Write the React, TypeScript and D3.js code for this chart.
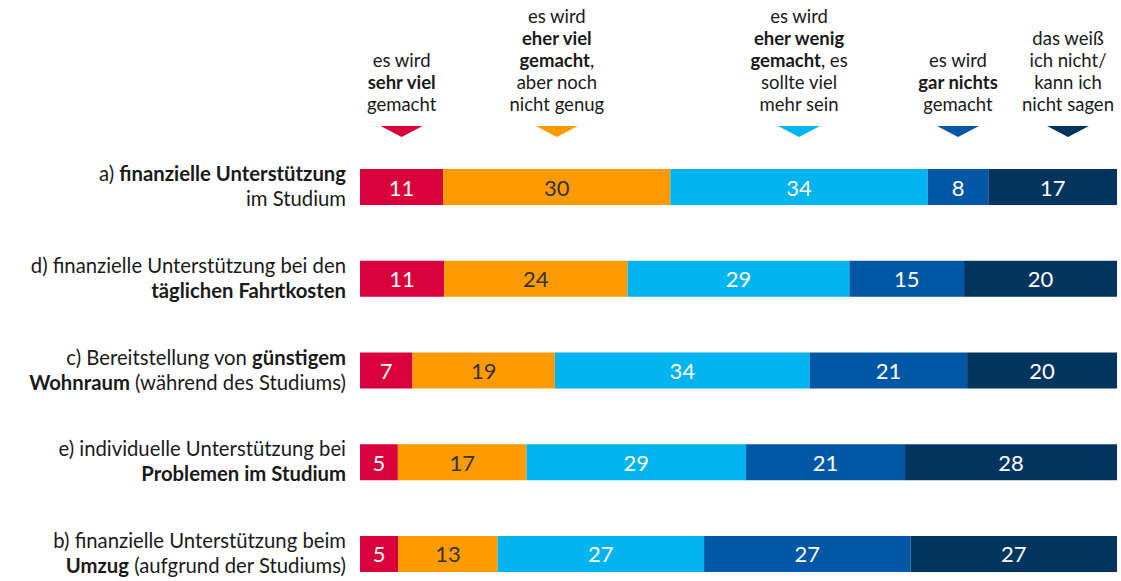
import { scaleBand, scaleLinear, sum } from 'd3';

type Seg = [string, boolean];

const categories = ['sehr viel', 'eher viel', 'eher wenig', 'gar nichts', 'weiß nicht'];
const colors = ['#d9003b', '#ff9a00', '#00b4f0', '#0057a6', '#01355f'];
const valueTextColors = ['#fff', '#333', '#fff', '#fff', '#fff'];

// header lines per answer category (text, bold)
const headerLines: Seg[][][] = [
  [[['es wird', false]], [['sehr viel', true]], [['gemacht', false]]],
  [[['es wird', false]], [['eher viel', true]], [['gemacht', true], [',', false]], [['aber noch', false]], [['nicht genug', false]]],
  [[['es wird', false]], [['eher wenig', true]], [['gemacht', true], [', es', false]], [['sollte viel', false]], [['mehr sein', false]]],
  [[['es wird', false]], [['gar nichts', true]], [['gemacht', false]]],
  [[['das weiß', false]], [['ich nicht/', false]], [['kann ich', false]], [['nicht sagen', false]]],
];

const rowLabels: Seg[][][] = [
  [[['a) ', false], ['finanzielle Unterstützung', true]], [['im Studium', false]]],
  [[['d) finanzielle Unterstützung bei den', false]], [['täglichen Fahrtkosten', true]]],
  [[['c) Bereitstellung von ', false], ['günstigem', true]], [['Wohnraum', true], [' (während des Studiums)', false]]],
  [[['e) individuelle Unterstützung bei', false]], [['Problemen im Studium', true]]],
  [[['b) finanzielle Unterstützung beim', false]], [['Umzug', true], [' (aufgrund der Studiums)', false]]],
];

const sehrViel = [11, 11, 7, 5, 5];
const eherViel = [30, 24, 19, 17, 13];
const eherWenig = [34, 29, 34, 29, 27];
const garNichts = [8, 15, 21, 21, 27];
const weissNicht = [17, 20, 20, 28, 27];

const series = [sehrViel, eherViel, eherWenig, garNichts, weissNicht];

const W = 1121;
const H = 581;
const x0 = 360;
const x1 = 1117;
const FONT = 'Lato, "Open Sans", sans-serif';

function Lines({ lines, x, y, anchor, lh, size }: { lines: Seg[][]; x: number; y: number; anchor: string; lh: number; size: number }) {
  return (
    <text x={x} y={y} textAnchor={anchor} fontSize={size} fill="#1a1a1a" fontFamily={FONT}>
      {lines.map((line, i) => (
        <tspan key={i} x={x} dy={i === 0 ? 0 : lh}>
          {line.map(([t, b], j) => (
            <tspan key={j} fontWeight={b ? 700 : 400}>{t}</tspan>
          ))}
        </tspan>
      ))}
    </text>
  );
}

export default function App() {
  const rows = rowLabels.map((_, i) => i);
  const y = scaleBand<number>().domain(rows).range([169, 572]).paddingInner(0.6076).paddingOuter(0);
  const bh = y.bandwidth();

  const stacks = rows.map((r) => {
    const vals = series.map((s) => s[r]);
    const total = sum(vals);
    const xs = scaleLinear().domain([0, total]).range([x0, x1]);
    let acc = 0;
    return vals.map((v, k) => {
      const a = acc;
      acc += v;
      return { k, v, xa: xs(a), xb: xs(acc) };
    });
  });

  // header markers sit above the first row's segments; the last one is pushed right to the chart edge
  const headerCenters = stacks[0].map((s, k) =>
    k === stacks[0].length - 1 ? Math.max((s.xa + s.xb) / 2, x1 - 49) : (s.xa + s.xb) / 2
  );
  const lastBaseline = 111;
  const lh = 22;

  return (
    <svg width={W} height={H} style={{ position: 'absolute', left: 0, top: 0 }}>
      <rect width={W} height={H} fill="#fff" />
      {categories.map((c, k) => {
        const cx = headerCenters[k];
        const lines = headerLines[k];
        return (
          <g key={c}>
            <Lines lines={lines} x={cx} y={lastBaseline - (lines.length - 1) * lh} anchor="middle" lh={lh} size={18.5} />
            <path d={`M${cx - 21},126 L${cx + 21},126 L${cx},137 Z`} fill={colors[k]} />
          </g>
        );
      })}
      {rows.map((r) => {
        const top = y(r)!;
        const cy = top + bh / 2;
        return (
          <g key={r}>
            <Lines lines={rowLabels[r]} x={346} y={cy - 6} anchor="end" lh={25} size={20.3} />
            {stacks[r].map((s) => (
              <g key={s.k}>
                <rect x={s.xa} y={top} width={s.xb - s.xa} height={bh} fill={colors[s.k]} />
                <text
                  x={(s.xa + s.xb) / 2}
                  y={cy + 8.5}
                  textAnchor="middle"
                  fontSize={22}
                  fontFamily={FONT}
                  fill={valueTextColors[s.k]}
                >
                  {s.v}
                </text>
              </g>
            ))}
          </g>
        );
      })}
    </svg>
  );
}
